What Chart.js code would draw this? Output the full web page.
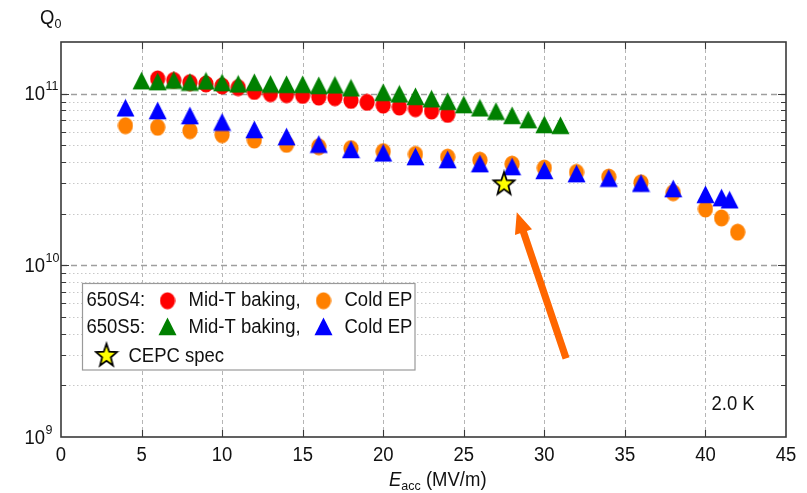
<!DOCTYPE html>
<html><head><meta charset="utf-8">
<script src="https://cdn.jsdelivr.net/npm/chart.js@4.4.1/dist/chart.umd.min.js"></script>
<style>html,body{margin:0;padding:0;background:#fff;}canvas{display:block;}</style>
</head><body>
<canvas id="c" width="807" height="493"></canvas>
<script>
// ---------- data ----------
const xTickValues = [0,5,10,15,20,25,30,35,40,45];
const yTickExponents = [9,10,11];

const s4MidT_E = [6,7,8,9,10,11,12,13,14,15,16,17,18,19,20,21,22,23,24];
const s4MidT_Q = [1.22e11,1.196e11,1.16e11,1.14e11,1.11e11,1.085e11,1.03e11,1.0e11,9.87e10,9.77e10,9.55e10,9.48e10,9.14e10,8.9e10,8.58e10,8.36e10,8.18e10,7.92e10,7.57e10];

const s5MidT_E = [5,6,7,8,9,10,11,12,13,14,15,16,17,18,20,21,22,23,24,25,26,27,28,29,30,31];
const s5MidT_Q = [1.19e11,1.175e11,1.2e11,1.168e11,1.187e11,1.16e11,1.14e11,1.164e11,1.137e11,1.133e11,1.133e11,1.117e11,1.125e11,1.081e11,1.018e11,9.97e10,9.64e10,9.34e10,9.02e10,8.64e10,8.27e10,7.9e10,7.47e10,7.06e10,6.61e10,6.54e10];

const s4Cold_E = [4,6,8,10,12,14,16,18,20,22,24,26,28,30,32,34,36,38,40,41,42];
const s4Cold_Q = [6.51e10,6.37e10,6.09e10,5.77e10,5.37e10,5.07e10,4.91e10,4.79e10,4.6e10,4.43e10,4.27e10,4.1e10,3.89e10,3.69e10,3.48e10,3.27e10,3.03e10,2.65e10,2.13e10,1.89e10,1.56e10];

const s5Cold_E = [4,6,8,10,12,14,16,18,20,22,24,26,28,30,32,34,36,38,40,41,41.5];
const s5Cold_Q = [8.27e10,7.97e10,7.45e10,6.83e10,6.18e10,5.62e10,5.08e10,4.73e10,4.52e10,4.3e10,4.13e10,3.91e10,3.76e10,3.57e10,3.42e10,3.22e10,3.01e10,2.8e10,2.59e10,2.48e10,2.41e10];

const cepcE = [27.5];
const cepcQ = [3.0e10];

const arrowTail = [31.35, 2.87e9];
const arrowTip  = [28.29, 2.04e10];

const legendRow1 = ['650S4:', 'Mid-T baking,', 'Cold EP'];
const legendRow2 = ['650S5:', 'Mid-T baking,', 'Cold EP'];
const legendRow3 = 'CEPC spec';
const tempLabel = '2.0 K';

// ---------- styles ----------
const FONT = '"Liberation Sans", Arial, Helvetica, sans-serif';
const VS = 1.08;
const C_RED = '#ff0000', C_ORANGE = '#ff8000', C_GREEN = '#008000', C_BLUE = '#0000ff';

function mkEllipse(color){
  const c = document.createElement('canvas'); c.width = 16; c.height = 18;
  const g = c.getContext('2d'); g.fillStyle = color;
  g.beginPath(); g.ellipse(8, 9, 7.6, 8.6, 0, 0, Math.PI*2); g.fill(); return c;
}
function mkTriangle(color){
  const c = document.createElement('canvas'); c.width = 19; c.height = 19;
  const g = c.getContext('2d'); g.fillStyle = color;
  g.beginPath(); g.moveTo(9.5, 0.5); g.lineTo(18.5, 18.3); g.lineTo(0.5, 18.3); g.closePath(); g.fill(); return c;
}
function mkStar(){
  const c = document.createElement('canvas'); c.width = 26; c.height = 28;
  const g = c.getContext('2d');
  const cx = 13, cy = 14.8, Ro = 11, Ri = 4.6;
  g.beginPath();
  for (let i = 0; i < 10; i++) {
    const a = -Math.PI/2 + i*Math.PI/5, r = i%2 ? Ri : Ro;
    const px = cx + r*Math.cos(a), py = cy + r*Math.sin(a)*1.1;
    i ? g.lineTo(px, py) : g.moveTo(px, py);
  }
  g.closePath(); g.fillStyle = '#ffff00'; g.fill();
  g.lineWidth = 1.8; g.strokeStyle = '#000'; g.lineJoin = 'miter'; g.stroke(); return c;
}
const IM_RED = mkEllipse(C_RED), IM_ORANGE = mkEllipse(C_ORANGE);
const IM_GREEN = mkTriangle(C_GREEN), IM_BLUE = mkTriangle(C_BLUE);
const IM_STAR = mkStar();

function pts(xs, ys){ return xs.map((x,i)=>({x:x, y:ys[i]})); }

function txt(ctx, s, x, y, size, align, italic){
  ctx.save(); ctx.translate(x, y); ctx.scale(1, VS);
  ctx.font = (italic ? 'italic ' : '') + size + 'px ' + FONT;
  ctx.textAlign = align || 'left'; ctx.textBaseline = 'middle';
  ctx.fillStyle = '#111'; ctx.fillText(s, 0, 0); ctx.restore();
}
function tw(ctx, s, size, italic){
  ctx.save(); ctx.font = (italic ? 'italic ' : '') + size + 'px ' + FONT;
  const w = ctx.measureText(s).width; ctx.restore(); return w;
}

const decor = {
  id: 'decor',
  beforeDatasetsDraw(chart){
    const ctx = chart.ctx, a = chart.chartArea, xs = chart.scales.x, ys = chart.scales.y;
    ctx.save();
    // vertical grid
    ctx.strokeStyle = '#b5b5b5'; ctx.lineWidth = 1; ctx.setLineDash([4,3]);
    xTickValues.forEach(v => { if (v <= 0 || v >= 45) return;
      const px = Math.round(xs.getPixelForValue(v)) + 0.5;
      ctx.beginPath(); ctx.moveTo(px, a.top); ctx.lineTo(px, a.bottom); ctx.stroke(); });
    // minor horizontal grid
    ctx.strokeStyle = '#c8c8c8'; ctx.setLineDash([1.5,2.5]);
    for (let e = 9; e <= 11; e++) for (let m = 2; m <= 9; m++) {
      const v = m * Math.pow(10, e); if (v >= 2e11) continue;
      const py = Math.round(ys.getPixelForValue(v)) + 0.5;
      ctx.beginPath(); ctx.moveTo(a.left, py); ctx.lineTo(a.right, py); ctx.stroke(); }
    // major horizontal grid
    ctx.strokeStyle = '#9e9e9e'; ctx.lineWidth = 1.4; ctx.setLineDash([6,4]);
    yTickExponents.forEach(e => { if (e === 9) return;
      const py = Math.round(ys.getPixelForValue(Math.pow(10, e))) + 0.5;
      ctx.beginPath(); ctx.moveTo(a.left, py); ctx.lineTo(a.right, py); ctx.stroke(); });
    ctx.restore();
  },
  afterDatasetsDraw(chart){
    const ctx = chart.ctx, a = chart.chartArea, xs = chart.scales.x, ys = chart.scales.y;
    ctx.save();
    // arrow
    const tx = xs.getPixelForValue(arrowTail[0]), ty = ys.getPixelForValue(arrowTail[1]);
    const hx = xs.getPixelForValue(arrowTip[0]),  hy = ys.getPixelForValue(arrowTip[1]);
    const L = Math.hypot(hx-tx, hy-ty), dx = (hx-tx)/L, dy = (hy-ty)/L, nx = -dy, ny = dx;
    const sw = 3.6, hw = 9, hl = 21, bx = hx - dx*hl, by = hy - dy*hl;
    ctx.fillStyle = '#ff6600'; ctx.beginPath();
    ctx.moveTo(tx + nx*sw, ty + ny*sw); ctx.lineTo(bx + nx*sw, by + ny*sw);
    ctx.lineTo(bx + nx*hw, by + ny*hw); ctx.lineTo(hx, hy);
    ctx.lineTo(bx - nx*hw, by - ny*hw); ctx.lineTo(bx - nx*sw, by - ny*sw);
    ctx.lineTo(tx - nx*sw, ty - ny*sw); ctx.closePath(); ctx.fill();

    // frame
    ctx.setLineDash([]); ctx.strokeStyle = '#3a3a3a'; ctx.lineWidth = 1.6;
    ctx.strokeRect(a.left, a.top, a.right - a.left, a.bottom - a.top);
    // ticks
    ctx.lineWidth = 1.1;
    xTickValues.forEach(v => { if (v <= 0 || v >= 45) return;
      const px = Math.round(xs.getPixelForValue(v)) + 0.5;
      ctx.beginPath(); ctx.moveTo(px, a.bottom); ctx.lineTo(px, a.bottom - 7);
      ctx.moveTo(px, a.top); ctx.lineTo(px, a.top + 7); ctx.stroke(); });
    for (let e = 9; e <= 11; e++) for (let m = 1; m <= 9; m++) {
      const v = m * Math.pow(10, e); if (v <= 1e9 || v >= 2e11) continue;
      const py = Math.round(ys.getPixelForValue(v)) + 0.5, len = m === 1 ? 8 : 5;
      ctx.beginPath(); ctx.moveTo(a.left, py); ctx.lineTo(a.left + len, py);
      ctx.moveTo(a.right, py); ctx.lineTo(a.right - len, py); ctx.stroke(); }

    // tick labels
    xTickValues.forEach(v => txt(ctx, String(v), xs.getPixelForValue(v), 455, 18.5, 'center'));
    yTickExponents.forEach(e => {
      const py = ys.getPixelForValue(Math.pow(10, e));
      txt(ctx, '10', 45, py + 1, 18.5, 'right');
      txt(ctx, String(e), 45.5, py - 7, 12.5, 'left');
    });
    // axis titles
    txt(ctx, 'Q', 40, 18, 18.5, 'left');
    txt(ctx, '0', 40 + tw(ctx, 'Q', 18.5), 24, 12.5, 'left');
    let x0 = 389;
    txt(ctx, 'E', x0, 480, 18.5, 'left', true); x0 += tw(ctx, 'E', 18.5, true);
    txt(ctx, 'acc', x0, 486, 12.5, 'left'); x0 += tw(ctx, 'acc', 12.5);
    txt(ctx, ' (MV/m)', x0, 480, 18.5, 'left');
    // temperature label
    txt(ctx, tempLabel, 711.5, 404, 18.5, 'left');

    // legend
    ctx.fillStyle = '#fff'; ctx.fillRect(82.5, 283.5, 332.5, 86.5);
    ctx.strokeStyle = '#9a9a9a'; ctx.lineWidth = 1.2; ctx.strokeRect(82.5, 283.5, 332.5, 86.5);
    const r1 = 300.7, r2 = 327.5, r3 = 356;
    txt(ctx, legendRow1[0], 86.5, r1, 18.5); txt(ctx, legendRow1[1], 188.5, r1, 18.5); txt(ctx, legendRow1[2], 344.5, r1, 18.5);
    txt(ctx, legendRow2[0], 86.5, r2, 18.5); txt(ctx, legendRow2[1], 188.5, r2, 18.5); txt(ctx, legendRow2[2], 344.5, r2, 18.5);
    txt(ctx, legendRow3, 128.5, r3, 18.5);
    const put = (im, cx, cy) => ctx.drawImage(im, cx - im.width/2, cy - im.height/2);
    put(IM_RED, 167.5, r1); put(IM_ORANGE, 323.5, r1);
    put(IM_GREEN, 167.5, r2 - 1); put(IM_BLUE, 323.5, r2 - 1);
    put(IM_STAR, 106.5, r3 - 1);
    ctx.restore();
  }
};

new Chart(document.getElementById('c'), {
  type: 'scatter',
  data: { datasets: [
    { label: 'CEPC spec', data: pts(cepcE, cepcQ), pointStyle: IM_STAR, pointRadius: 8, order: 0 },
    { label: '650S5 Cold EP', data: pts(s5Cold_E, s5Cold_Q), pointStyle: IM_BLUE, pointRadius: 8, order: 1 },
    { label: '650S5 Mid-T baking', data: pts(s5MidT_E, s5MidT_Q), pointStyle: IM_GREEN, pointRadius: 8, order: 2 },
    { label: '650S4 Cold EP', data: pts(s4Cold_E, s4Cold_Q), pointStyle: IM_ORANGE, pointRadius: 8, order: 3 },
    { label: '650S4 Mid-T baking', data: pts(s4MidT_E, s4MidT_Q), pointStyle: IM_RED, pointRadius: 8, order: 4 }
  ]},
  options: {
    responsive: false, animation: false, events: [],
    layout: { padding: { top: 42, right: 21, left: 0, bottom: 0 } },
    plugins: { legend: { display: false }, tooltip: { enabled: false } },
    scales: {
      x: { type: 'linear', min: 0, max: 45, ticks: { display: false }, grid: { display: false }, border: { display: false },
           afterFit: s => { s.height = 56; } },
      y: { type: 'logarithmic', min: 1e9, max: 2e11, ticks: { display: false }, grid: { display: false }, border: { display: false },
           afterFit: s => { s.width = 61; } }
    }
  },
  plugins: [decor]
});
</script>
</body></html>
